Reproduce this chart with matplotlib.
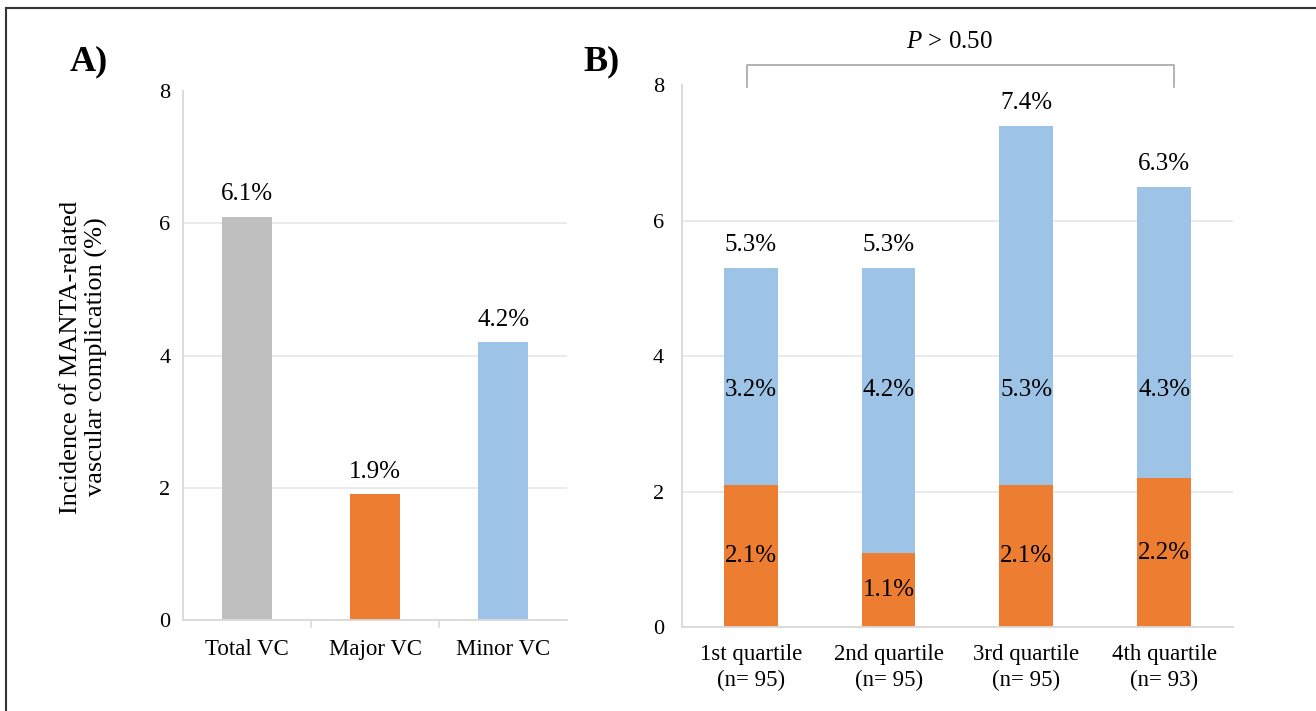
import numpy as np
import matplotlib
matplotlib.use('Agg')
import matplotlib.pyplot as plt
from matplotlib.lines import Line2D

plt.rcParams['font.family'] = ['Liberation Serif', 'DejaVu Serif']
plt.rcParams['mathtext.fontset'] = 'custom'
plt.rcParams['mathtext.it'] = 'Liberation Serif:italic'
plt.rcParams['mathtext.rm'] = 'Liberation Serif'

# Panel A: overall incidence
vc_types = ['Total VC', 'Major VC', 'Minor VC']
vc_incidence = [6.1, 1.9, 4.2]

# Panel B: incidence per quartile (stacked major + minor)
quartiles = ['1st quartile\n(n= 95)', '2nd quartile\n(n= 95)',
             '3rd quartile\n(n= 95)', '4th quartile\n(n= 93)']
major_q = [2.1, 1.1, 2.1, 2.2]
minor_q = [3.2, 4.2, 5.3, 4.3]
total_q_labels = ['5.3%', '5.3%', '7.4%', '6.3%']
p_text = '$P$ > 0.50'

GRAY = '#bfbfbf'
ORANGE = '#ed7d31'
BLUE = '#9dc3e6'
GRID = '#e6e6e6'
SPINE = '#d9d9d9'
BAR_W = 0.39
MINOR_LABEL_Y = 3.5
LABEL_FS = 18


def style_axis(ax, ypad):
    ax.set_ylim(0, 8)
    ax.set_yticks([0, 2, 4, 6, 8])
    for s in ['top', 'right']:
        ax.spines[s].set_visible(False)
    for s in ['left', 'bottom']:
        ax.spines[s].set_color(SPINE)
        ax.spines[s].set_linewidth(1.3)
    ax.tick_params(axis='y', length=0, pad=ypad, labelsize=16)
    ax.tick_params(axis='x', which='major', length=0, labelsize=16.5)
    ax.grid(axis='y', color=GRID, lw=1.2)
    ax.set_axisbelow(True)
    # no gridline at the top value
    ax.yaxis.get_gridlines()[-1].set_visible(False)


fig = plt.figure(figsize=(13.16, 7.11), dpi=100)
axA = fig.add_axes([0.1391, 0.1280, 0.2918, 0.7440])
axB = fig.add_axes([0.5182, 0.1181, 0.4187, 0.7623])

# ---- Panel A
xa = np.arange(len(vc_types))
axA.bar(xa, vc_incidence, width=BAR_W, color=[GRAY, ORANGE, BLUE])
axA.set_xlim(-0.5, len(vc_types) - 0.5)
axA.set_xticks(xa)
axA.set_xticklabels(vc_types)
axA.set_xticks(xa[:-1] + 0.5, minor=True)
axA.tick_params(axis='x', which='minor', length=6, color=SPINE, width=1.2)
axA.tick_params(axis='x', which='major', pad=14)
style_axis(axA, 9)
for x, v in zip(xa, vc_incidence):
    axA.annotate(f'{v:.1f}%', (x, v), xytext=(0, 12), textcoords='offset points',
                 ha='center', va='baseline', fontsize=LABEL_FS)

# ---- Panel B
xb = np.arange(len(quartiles))
axB.bar(xb, major_q, width=BAR_W, color=ORANGE)
axB.bar(xb, minor_q, width=BAR_W, bottom=major_q, color=BLUE)
axB.set_xlim(-0.5, len(quartiles) - 0.5)
axB.set_xticks(xb)
axB.set_xticklabels(quartiles, linespacing=1.3)
axB.tick_params(axis='x', which='major', pad=12)
style_axis(axB, 13)

totals = np.array(major_q) + np.array(minor_q)
for x, m, t, lab in zip(xb, major_q, totals, total_q_labels):
    axB.text(x, m / 2, f'{m:.1f}%', ha='center', va='center', fontsize=LABEL_FS)
    axB.annotate(lab, (x, t), xytext=(0, 12), textcoords='offset points',
                 ha='center', va='baseline', fontsize=LABEL_FS)
for x, n in zip(xb, minor_q):
    axB.text(x, MINOR_LABEL_Y, f'{n:.1f}%', ha='center', va='center', fontsize=LABEL_FS)

# significance bracket over the quartiles
bx0, bx1 = xb[0] - 0.03, xb[-1] + 0.07
axB.plot([bx0, bx0, bx1, bx1], [7.97, 8.30, 8.30, 7.97], color='#a6a6a6',
         lw=1.2, clip_on=False)
axB.text((bx0 + bx1) / 2 - 0.08, 8.64, p_text, ha='center', va='center', fontsize=LABEL_FS)

# y label and panel letters
fig.text(84 / 1316, 1 - 357 / 711, 'Incidence of MANTA-related\nvascular complication (%)',
         rotation=90, ha='center', va='center', fontsize=19, multialignment='center',
         linespacing=1.15)
fig.text(70 / 1316, 1 - 62 / 711, 'A)', fontsize=26, fontweight='bold', ha='left', va='center')
fig.text(583 / 1316, 1 - 62 / 711, 'B)', fontsize=26, fontweight='bold', ha='left', va='center')

# frame lines (top and left) as in the original figure
fx, fy = 6 / 1316, 1 - 8 / 711
fig.add_artist(Line2D([fx, 1], [fy, fy], transform=fig.transFigure, color='#333333', lw=1.5))
fig.add_artist(Line2D([fx, fx], [0, fy], transform=fig.transFigure, color='#333333', lw=1.5))

plt.savefig('out.png', dpi=100)
